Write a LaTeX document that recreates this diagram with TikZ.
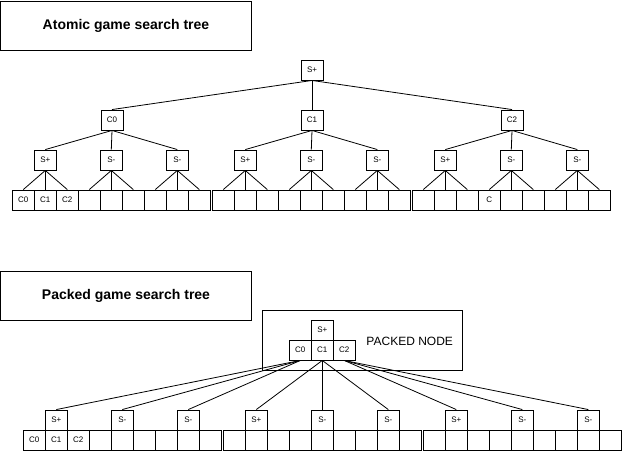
\documentclass[tikz,border=0pt]{standalone}
\usepackage{fontspec}
\setmainfont{Liberation Sans}
\begin{document}
\begin{tikzpicture}[x=1pt,y=-1pt,
  box/.style={draw, line width=0.9pt, minimum width=22pt, minimum height=20pt, inner sep=0pt, font=\fontsize{8}{9}\selectfont},
  titlebox/.style={draw, line width=1pt, minimum width=251pt, minimum height=49pt, inner sep=0pt, font=\bfseries\fontsize{14}{16}\selectfont},
  packbox/.style={draw, line width=0.9pt, minimum width=200pt, minimum height=60pt, inner sep=0pt},
  edge/.style={draw, line width=0.8pt}]
\useasboundingbox (0,0) rectangle (623,451);

% ---------- Atomic tree ----------
\node[titlebox] (t1) at (126,25.5) {Atomic game search tree};
\node[box] (r) at (312,70) {S+};
\foreach \g/\l in {0/C0,1/C1,2/C2}
  \node[box] (c\g) at (112+200*\g,120) {\l};
\foreach \g in {0,1,2}
  \foreach \j/\l in {0/S+,1/S-,2/S-}
    \node[box] (s\g\j) at (45.3+66*\j+200*\g,160) {\l};
\foreach \k/\l in {0/C0,1/C1,2/C2,3/{},4/{},5/{},6/{},7/{},8/{}}
  \node[box] (L0\k) at (23.3+22*\k,200) {\l};
\foreach \k in {0,...,8}
  \node[box] (L1\k) at (223.3+22*\k,200) {};
\foreach \k/\l in {0/{},1/{},2/{},3/C,4/{},5/{},6/{},7/{},8/{}}
  \node[box] (L2\k) at (423.3+22*\k,200) {\l};

\foreach \g in {0,1,2}{
  \draw[edge] (r.south) -- (c\g.north);
  \foreach \j in {0,1,2}{
    \draw[edge] (c\g.south) -- (s\g\j.north);
    \foreach \i in {0,1,2}{
      \pgfmathtruncatemacro\k{3*\j+\i}
      \draw[edge] (s\g\j.south) -- (L\g\k.north);
    }
  }
}

% ---------- Packed tree ----------
\node[titlebox] (t2) at (126,295.5) {Packed game search tree};
\node[packbox] (pk) at (362,340) {};
\node[font=\fontsize{12}{14}\selectfont, inner sep=0pt] (pktext) at (409.7,341) {PACKED NODE};
\node[box] (ps) at (322.3,330) {S+};
\foreach \g/\l in {0/C0,1/C1,2/C2}
  \node[box] (pc\g) at (300.3+22*\g,350) {\l};

\foreach \k/\l in {0/C0,1/C1,2/C2,3/{},4/{},5/{},6/{},7/{},8/{}}
  \node[box] (B0\k) at (34.3+22*\k,440) {\l};
\foreach \g in {1,2}
  \foreach \k in {0,...,8}
    \node[box] (B\g\k) at (34.3+22*\k+200*\g,440) {};
\foreach \g in {0,1,2}
  \foreach \j/\l in {0/S+,1/S-,2/S-}
    \node[box] (bs\g\j) at (56.3+66*\j+200*\g,420) {\l};

\foreach \g in {0,1,2}
  \foreach \j in {0,1,2}
    \draw[edge] (pc\g.south) -- (bs\g\j.north);
\end{tikzpicture}
\end{document}
